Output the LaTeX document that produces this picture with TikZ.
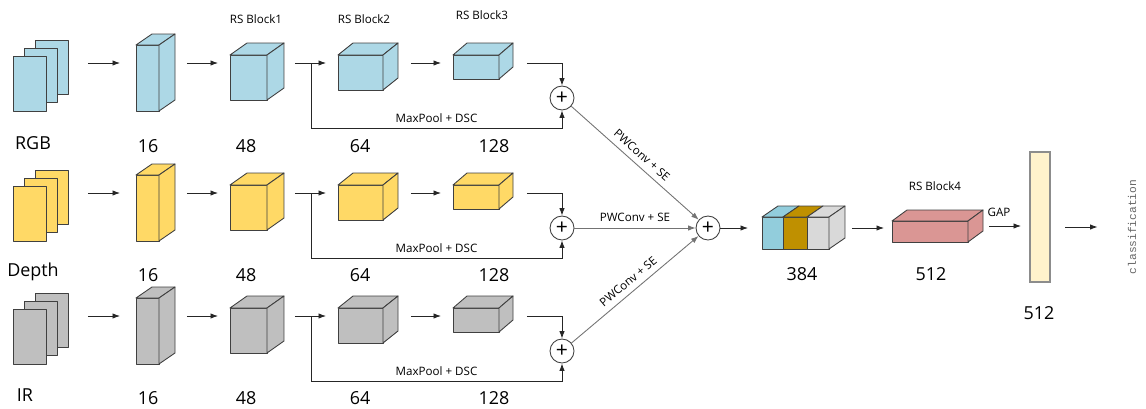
\documentclass[tikz,border=0pt]{standalone}
\usepackage{fontspec}
\setmainfont{Open Sans}
\newfontfamily\clsfont{Liberation Mono}
\usetikzlibrary{arrows.meta,positioning,calc}
\definecolor{rsblue}{HTML}{ADD8E6}
\definecolor{rsyellow}{HTML}{FFD966}
\definecolor{rsgray}{HTML}{BFBFBF}
\definecolor{catblue}{HTML}{92CDDC}
\definecolor{catgold}{HTML}{BF9000}
\definecolor{catgray}{HTML}{D9D9D9}
\definecolor{rsred}{HTML}{DA9694}
\definecolor{gapbar}{HTML}{FFF2CC}
\definecolor{edge}{HTML}{404040}
\begin{document}
\begin{tikzpicture}[
   x=0.02cm,y=-0.02cm,
   font=\fontsize{10}{12}\selectfont,
   face/.style={draw=edge,line width=0.5pt,inner sep=0pt,outer sep=0pt,line join=round},
   blk/.style={font=\fontsize{6.6}{8}\selectfont},
   num/.style={font=\fontsize{10.2}{12}\selectfont},
   arr/.style={-{Latex[length=1.5mm,width=1.1mm]},line width=0.5pt,draw=black!85},
   to/.style={arr,shorten <=0.56cm,shorten >=0.24cm},
   sum/.style={circle,draw=edge,line width=0.5pt,minimum size=0.48cm,inner sep=0pt,font=\fontsize{12}{12}\selectfont},
   diag/.style={arr,draw=black!55}]
\useasboundingbox (0,0) rectangle (1146,409);
% three input branches
\foreach \row/\yo/\col/\name/\nx/\ly in {rgb/0/rsblue/RGB/33/146,dep/130/rsyellow/Depth/33/275,ir/253/rsgray/IR/25/398}{
  \coordinate (a\row) at (0,63+\yo);
  \node[face,fill=\col,minimum width=0.66cm,minimum height=1.08cm] (s3\row) at (51.5,67+\yo) {};
  \node[face,fill=\col,minimum width=0.66cm,minimum height=1.08cm] (s2\row) at (40.5,75+\yo) {};
  \node[face,fill=\col,minimum width=0.66cm,minimum height=1.1cm] (s1\row) at (29.5,83.5+\yo) {};
  \node[face,fill=\col,minimum width=0.46cm,minimum height=1.32cm] (in\row) at (147.5,78+\yo) {};
  \node[face,fill=\col,minimum width=0.74cm,minimum height=0.9cm] (c1\row) at (248.5,77.5+\yo) {};
  \node[face,fill=\col,minimum width=0.9cm,minimum height=0.7cm] (c2\row) at (360.5,72.5+\yo) {};
  \node[face,fill=\col,minimum width=0.92cm,minimum height=0.48cm] (c3\row) at (476,67+\yo) {};
  \foreach \n/\dx/\dy in {in/16/-11,c1/17/-12,c2/15/-12,c3/14/-12}{
    \draw[face,fill=\col] (\n\row.north west) -- ++(\dx,\dy) -- ([shift={(\dx,\dy)}]\n\row.north east) -- (\n\row.north east) -- cycle;
    \draw[face,fill=\col] (\n\row.north east) -- ++(\dx,\dy) -- ([shift={(\dx,\dy)}]\n\row.south east) -- (\n\row.south east) -- cycle;
  }
  \node[sum] (p\row) at (562,98+\yo) {+};
  \draw[to,shorten <=0.4cm,shorten >=0.32cm] (s3\row.east |- a\row) -- (in\row.west |- a\row);
  \draw[to] (in\row.east |- a\row) -- (c1\row.west |- a\row);
  \draw[to] (c1\row.east |- a\row) -- (c2\row.west |- a\row);
  \draw[to] (c2\row.east |- a\row) -- (c3\row.west |- a\row);
  \draw[to,shorten >=0pt] (c3\row.east |- a\row) -| (p\row.north);
  \path (c1\row.east |- a\row) -- (c2\row.west |- a\row) coordinate[pos=0.62] (br\row);
  \draw[arr] (br\row) |- ($(p\row.south)+(0,18)$) node[blk,pos=0.75,above=0pt] {MaxPool + DSC} -- (p\row.south);
  \node[num] (n\row) at (\nx,\ly-3) {\name};
  \node[num] (l1\row) at (148,\ly) {16};
  \node[num] (l2\row) at (246,\ly) {48};
  \node[num] (l3\row) at (360,\ly) {64};
  \node[num] (l4\row) at (494,\ly) {128};
}
\node[blk] (b1) at (256,19) {RS Block1};
\node[blk] (b2) at (364,19) {RS Block2};
\node[blk] (b3) at (482,15) {RS Block3};
% fusion
\node[sum] (m) at (708,228) {+};
\draw[diag] (prgb) -- node[blk,sloped,above] {PWConv + SE} (m);
\draw[diag] (pdep) -- node[blk,above] {PWConv + SE} (m);
\draw[diag] (pir) -- node[blk,sloped,above] {PWConv + SE} (m);
\node[face,fill=catblue,minimum width=0.42cm,minimum height=0.64cm] (catb) at (772.5,233) {};
\node[face,fill=catgold,minimum width=0.48cm,minimum height=0.64cm,right=0pt of catb] (catg) {};
\node[face,fill=catgray,minimum width=0.44cm,minimum height=0.64cm,right=0pt of catg] (catc) {};
\foreach \n/\c in {catb/catblue,catg/catgold,catc/catgray}{
  \draw[face,fill=\c] (\n.north west) -- ++(16,-11) -- ([shift={(16,-11)}]\n.north east) -- (\n.north east) -- cycle;
}
\draw[face,fill=catgray] (catc.north east) -- ++(16,-11) -- ([shift={(16,-11)}]catc.south east) -- (catc.south east) -- cycle;
\node[face,fill=rsred,minimum width=1.52cm,minimum height=0.42cm] (red) at (930,231.5) {};
\draw[face,fill=rsred] (red.north west) -- ++(15,-11) -- ([shift={(15,-11)}]red.north east) -- (red.north east) -- cycle;
\draw[face,fill=rsred] (red.north east) -- ++(15,-11) -- ([shift={(15,-11)}]red.south east) -- (red.south east) -- cycle;
\node[draw=black!45,fill=gapbar,line width=0.6pt,minimum width=0.4cm,minimum height=2.6cm,inner sep=0pt,outer sep=0pt] (bar) at (1040,217) {};
\node[rotate=90,inner sep=0pt,text=black!60,font=\clsfont\fontsize{6.4}{8}\selectfont] (cls) at (1132,227) {classification};
\draw[arr,shorten >=0.28cm] (m) -- (catb.west |- m);
\draw[arr,shorten <=0.46cm,shorten >=0.16cm] (catc.east |- m) -- (red.west |- m);
\draw[arr,shorten <=0.42cm,shorten >=0.18cm] (red.east |- 0,226) -- node[blk,above=2pt] {GAP} (bar.west |- 0,226);
\draw[arr,shorten <=0.3cm,shorten >=0.6cm] (bar.east |- cls) -- (cls.north);
\node[blk] (b4) at (935,186) {RS Block4};
\node[num] (l384) at (802,274) {384};
\node[num] (l512a) at (931,274) {512};
\node[num] (l512b) at (1039,313) {512};
\end{tikzpicture}
\end{document}
